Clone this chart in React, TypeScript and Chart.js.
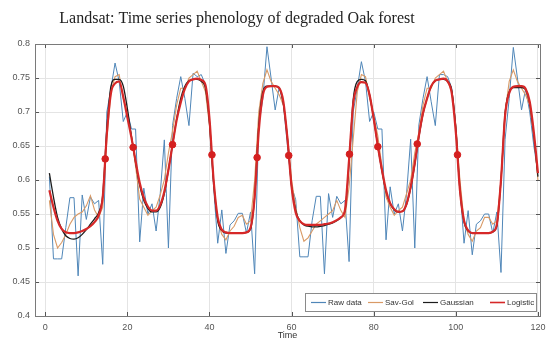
import React, { useEffect, useRef } from 'react';
import { Chart, registerables } from 'chart.js';

Chart.register(...registerables);

const TITLE = 'Landsat: Time series phenology of degraded Oak forest';
const X_TITLE = 'Time';
const SERIES_NAMES = ['Raw data', 'Sav-Gol', 'Gaussian', 'Logistic'];
const SERIES_COLORS = ['#4f86b8', '#d99a66', '#1c1c1c', '#d62828'];

const time = Array.from({ length: 120 }, (_, i) => i + 1);

const rawData = [
  0.605, 0.484, 0.484, 0.484, 0.53, 0.574, 0.574, 0.459, 0.578, 0.542,
  0.575, 0.565, 0.57, 0.476, 0.70, 0.735, 0.772, 0.745, 0.686, 0.70,
  0.675, 0.675, 0.509, 0.588, 0.55, 0.565, 0.525, 0.58, 0.659, 0.50,
  0.68, 0.72, 0.752, 0.72, 0.68, 0.757, 0.752, 0.755, 0.74, 0.68,
  0.59, 0.507, 0.556, 0.492, 0.534, 0.54, 0.551, 0.551, 0.522, 0.553,
  0.462, 0.68, 0.72, 0.796, 0.75, 0.703, 0.737, 0.71, 0.65, 0.59,
  0.571, 0.487, 0.487, 0.487, 0.54, 0.576, 0.576, 0.462, 0.58, 0.545,
  0.576, 0.565, 0.57, 0.48, 0.70, 0.735, 0.774, 0.745, 0.686, 0.70,
  0.675, 0.675, 0.512, 0.59, 0.55, 0.565, 0.525, 0.58, 0.66, 0.50,
  0.681, 0.72, 0.752, 0.715, 0.68, 0.755, 0.755, 0.752, 0.735, 0.68,
  0.59, 0.507, 0.555, 0.49, 0.535, 0.54, 0.55, 0.55, 0.522, 0.553,
  0.464, 0.66, 0.72, 0.795, 0.75, 0.703, 0.734, 0.70, 0.65, 0.61,
];

const savGol = [
  0.57, 0.52, 0.5, 0.508, 0.52, 0.535, 0.545, 0.55, 0.553, 0.562,
  0.577, 0.556, 0.545, 0.56, 0.66, 0.73, 0.752, 0.755, 0.72, 0.697,
  0.665, 0.62, 0.572, 0.56, 0.548, 0.555, 0.56, 0.578, 0.6, 0.64,
  0.672, 0.71, 0.735, 0.735, 0.75, 0.755, 0.76, 0.745, 0.73, 0.68,
  0.6, 0.54, 0.52, 0.512, 0.525, 0.532, 0.545, 0.548, 0.535, 0.54,
  0.6, 0.7, 0.742, 0.762, 0.745, 0.735, 0.725, 0.71, 0.665, 0.6,
  0.56, 0.53, 0.51, 0.515, 0.525, 0.535, 0.54, 0.545, 0.55, 0.555,
  0.57, 0.555, 0.545, 0.59, 0.66, 0.73, 0.755, 0.752, 0.72, 0.695,
  0.665, 0.62, 0.575, 0.56, 0.548, 0.555, 0.56, 0.58, 0.6, 0.64,
  0.67, 0.71, 0.735, 0.735, 0.75, 0.755, 0.76, 0.745, 0.73, 0.68,
  0.6, 0.54, 0.52, 0.51, 0.525, 0.53, 0.545, 0.545, 0.535, 0.54,
  0.6, 0.7, 0.745, 0.762, 0.745, 0.735, 0.725, 0.71, 0.665, 0.6,
];

const gaussian = [
  0.61, 0.575, 0.545, 0.528, 0.518, 0.514, 0.513, 0.515, 0.52, 0.527,
  0.535, 0.543, 0.552, 0.578, 0.675, 0.738, 0.748, 0.748, 0.738, 0.705,
  0.664, 0.626, 0.592, 0.57, 0.558, 0.553, 0.553, 0.56, 0.58, 0.615,
  0.652, 0.69, 0.72, 0.738, 0.746, 0.748, 0.748, 0.745, 0.735, 0.685,
  0.597, 0.54, 0.526, 0.522, 0.522, 0.522, 0.522, 0.522, 0.523, 0.528,
  0.575, 0.68, 0.73, 0.738, 0.738, 0.738, 0.735, 0.712, 0.66, 0.59,
  0.555, 0.54, 0.534, 0.532, 0.531, 0.531, 0.532, 0.533, 0.535, 0.537,
  0.54, 0.545, 0.555, 0.625, 0.718, 0.745, 0.748, 0.746, 0.725, 0.69,
  0.65, 0.613, 0.583, 0.565, 0.556, 0.553, 0.554, 0.564, 0.588, 0.623,
  0.663, 0.697, 0.72, 0.738, 0.746, 0.748, 0.748, 0.745, 0.732, 0.675,
  0.585, 0.538, 0.525, 0.522, 0.522, 0.522, 0.522, 0.522, 0.524, 0.533,
  0.6, 0.698, 0.73, 0.736, 0.736, 0.736, 0.733, 0.712, 0.665, 0.605,
];

const logistic = [
  0.585, 0.56, 0.54, 0.528, 0.523, 0.522, 0.522, 0.523, 0.525, 0.528,
  0.532, 0.538, 0.548, 0.575, 0.668, 0.728, 0.742, 0.745, 0.722, 0.692,
  0.662, 0.628, 0.596, 0.574, 0.561, 0.555, 0.555, 0.563, 0.583, 0.615,
  0.652, 0.688, 0.714, 0.734, 0.745, 0.748, 0.749, 0.747, 0.74, 0.69,
  0.6, 0.545, 0.527, 0.523, 0.522, 0.522, 0.522, 0.522, 0.523, 0.53,
  0.575, 0.672, 0.725, 0.737, 0.738, 0.738, 0.735, 0.715, 0.66, 0.59,
  0.552, 0.54, 0.535, 0.534, 0.534, 0.534, 0.534, 0.535, 0.536, 0.538,
  0.541, 0.545, 0.556, 0.63, 0.712, 0.737, 0.744, 0.743, 0.725, 0.69,
  0.65, 0.615, 0.585, 0.566, 0.557, 0.553, 0.554, 0.565, 0.59, 0.625,
  0.665, 0.698, 0.72, 0.738, 0.746, 0.748, 0.749, 0.745, 0.728, 0.67,
  0.585, 0.54, 0.526, 0.522, 0.522, 0.522, 0.522, 0.522, 0.524, 0.535,
  0.6, 0.695, 0.728, 0.737, 0.738, 0.738, 0.734, 0.715, 0.67, 0.61,
];

const inflectionX = [14.6, 21.4, 31, 40.6, 51.6, 59.3, 74.1, 81, 90.6, 100.4];
const inflectionY = [0.631, 0.648, 0.652, 0.637, 0.633, 0.636, 0.638, 0.649, 0.653, 0.637];

const X_MIN = -2.5;
const X_MAX = 120.5;
const X_STEP = 20;
const Y_MIN = 0.4;
const Y_MAX = 0.8;
const Y_STEP = 0.05;

const SANS = "'Liberation Sans', Arial, sans-serif";
const SERIF = "'Liberation Serif', 'Times New Roman', serif";

const framePlugin = {
  id: 'frame',
  afterDatasetsDraw(chart: any) {
    const { ctx, chartArea: a, scales } = chart;
    ctx.save();
    ctx.strokeStyle = '#555';
    ctx.lineWidth = 1;
    const tl = 4;
    scales.x.ticks.forEach((t: any) => {
      const px = Math.round(scales.x.getPixelForValue(t.value)) + 0.5;
      ctx.beginPath();
      ctx.moveTo(px, a.bottom); ctx.lineTo(px, a.bottom - tl);
      ctx.moveTo(px, a.top); ctx.lineTo(px, a.top + tl);
      ctx.stroke();
    });
    scales.y.ticks.forEach((t: any) => {
      const py = Math.round(scales.y.getPixelForValue(t.value)) + 0.5;
      ctx.beginPath();
      ctx.moveTo(a.left, py); ctx.lineTo(a.left + tl, py);
      ctx.moveTo(a.right, py); ctx.lineTo(a.right - tl, py);
      ctx.stroke();
    });
    ctx.strokeStyle = '#7a7a7a';
    ctx.strokeRect(Math.round(a.left) + 0.5, Math.round(a.top) + 0.5,
      Math.round(a.right - a.left), Math.round(a.bottom - a.top));
    ctx.restore();
  },
  afterDraw(chart: any) {
    const { ctx, chartArea: a } = chart;
    ctx.save();
    ctx.fillStyle = '#222';
    ctx.font = `16px ${SERIF}`;
    ctx.textAlign = 'center';
    ctx.textBaseline = 'alphabetic';
    ctx.fillText(TITLE, 237, 23);
    const bx = a.right - 235, by = a.bottom - 23, bw = 231, bh = 18;
    ctx.fillStyle = '#fff';
    ctx.fillRect(bx, by, bw, bh);
    ctx.strokeStyle = '#8a8a8a';
    ctx.lineWidth = 1;
    ctx.strokeRect(bx + 0.5, by + 0.5, bw, bh);
    ctx.font = `8px ${SANS}`;
    ctx.textAlign = 'left';
    ctx.textBaseline = 'middle';
    const cy = by + bh / 2 + 0.5;
    const offs = [6, 63, 118, 185];
    SERIES_NAMES.forEach((name, i) => {
      const x0 = bx + offs[i];
      ctx.strokeStyle = SERIES_COLORS[i];
      ctx.lineWidth = i === 3 ? 1.6 : 1.2;
      ctx.beginPath();
      ctx.moveTo(x0, cy); ctx.lineTo(x0 + 15, cy);
      ctx.stroke();
      ctx.fillStyle = '#333';
      ctx.fillText(name, x0 + 17, cy);
    });
    ctx.restore();
  },
};

const fmtTick = (v: any) => String(Math.round(Number(v) * 100) / 100);

export default function App() {
  const ref = useRef<HTMLCanvasElement | null>(null);
  useEffect(() => {
    if (!ref.current) return;
    const pts = (ys: number[]) => time.map((t, i) => ({ x: t, y: ys[i] }));
    const chart = new Chart(ref.current, {
      type: 'line',
      data: {
        datasets: [
          {
            label: 'Inflection',
            data: inflectionX.map((x, i) => ({ x, y: inflectionY[i] })),
            showLine: false,
            pointRadius: 3.3,
            pointBackgroundColor: '#d42020',
            pointBorderColor: '#d42020',
            borderColor: '#d42020',
            order: 0,
          },
          {
            label: SERIES_NAMES[3], data: pts(logistic), borderColor: SERIES_COLORS[3],
            borderWidth: 2.2, pointRadius: 0, cubicInterpolationMode: 'monotone', order: 1,
          },
          {
            label: SERIES_NAMES[2], data: pts(gaussian), borderColor: SERIES_COLORS[2],
            borderWidth: 1.3, pointRadius: 0, cubicInterpolationMode: 'monotone', order: 2,
          },
          {
            label: SERIES_NAMES[1], data: pts(savGol), borderColor: SERIES_COLORS[1],
            borderWidth: 1.1, pointRadius: 0, tension: 0, order: 3,
          },
          {
            label: SERIES_NAMES[0], data: pts(rawData), borderColor: SERIES_COLORS[0],
            borderWidth: 1, pointRadius: 0, tension: 0, order: 4,
          },
        ] as any,
      },
      options: {
        animation: false,
        responsive: false,
        maintainAspectRatio: false,
        events: [],
        layout: { padding: { left: 0, right: 7, top: 44, bottom: 0 } },
        plugins: {
          legend: { display: false },
          title: { display: false },
          tooltip: { enabled: false },
        },
        scales: {
          x: {
            type: 'linear',
            min: X_MIN,
            max: X_MAX,
            ticks: {
              stepSize: X_STEP,
              includeBounds: false,
              maxRotation: 0,
              autoSkip: false,
              padding: 6,
              color: '#555',
              font: { family: SANS, size: 9 },
              callback: fmtTick,
            },
            grid: { color: '#e4e4e4', drawTicks: false },
            border: { display: false },
            title: {
              display: true,
              text: X_TITLE,
              color: '#333',
              font: { family: SANS, size: 9 },
              padding: 0,
            },
            afterFit: (s: any) => { s.height = 25; s.paddingLeft = 0; s.paddingRight = 0; },
          },
          y: {
            min: Y_MIN,
            max: Y_MAX,
            ticks: {
              stepSize: Y_STEP,
              padding: 5,
              color: '#555',
              font: { family: SANS, size: 9 },
              callback: fmtTick,
            },
            grid: { color: '#e4e4e4', drawTicks: false },
            border: { display: false },
            afterFit: (s: any) => { s.width = 35; s.paddingTop = 0; s.paddingBottom = 0; },
          },
        },
      } as any,
      plugins: [framePlugin],
    });
    return () => chart.destroy();
  }, []);
  return (
    <div style={{ position: 'absolute', left: 0, top: 0, width: 547, height: 341, background: '#fff' }}>
      <canvas ref={ref} width={547} height={341} style={{ display: 'block' }} />
    </div>
  );
}
